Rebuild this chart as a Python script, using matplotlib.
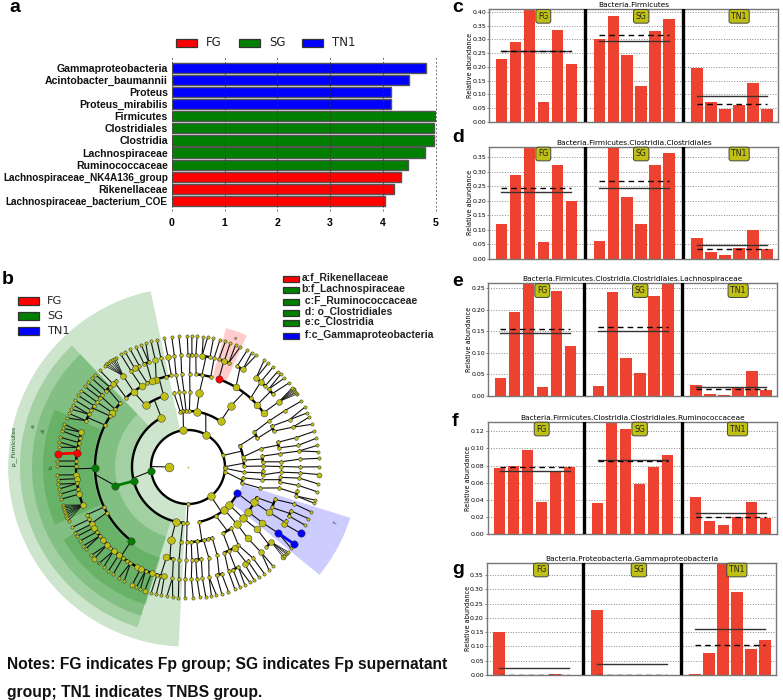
import matplotlib
matplotlib.use('Agg')
import matplotlib.pyplot as plt
import numpy as np
from matplotlib.patches import Rectangle

W, H = 783, 700
BOLD = 'Liberation Sans'
RED, GREEN, BLUE, YELLOW = '#ff0000', '#007f00', '#0000ff', '#bfbf14'
BAR = '#ee4230'

# panel a
lda_names = ['Gammaproteobacteria', 'Acintobacter_baumannii', 'Proteus', 'Proteus_mirabilis',
             'Firmicutes', 'Clostridiales', 'Clostridia', 'Lachnospiraceae', 'Ruminococcaceae',
             'Lachnospiraceae_NK4A136_group', 'Rikenellaceae', 'Lachnospiraceae_bacterium_COE']
lda_values = [4.82, 4.50, 4.15, 4.15, 5.00, 4.98, 4.98, 4.80, 4.48, 4.34, 4.22, 4.05]
lda_colors = [BLUE] * 4 + [GREEN] * 5 + [RED] * 3
group_names = ['FG', 'SG', 'TN1']
group_colors = [RED, GREEN, BLUE]

# panels c-g: per-sample abundance, mean (dashed) and median (solid)
titles = ['Bacteria.Firmicutes',
          'Bacteria.Firmicutes.Clostridia.Clostridiales',
          'Bacteria.Firmicutes.Clostridia.Clostridiales.Lachnospiraceae',
          'Bacteria.Firmicutes.Clostridia.Clostridiales.Ruminococcaceae',
          'Bacteria.Proteobacteria.Gammaproteobacteria']
letters = ['c', 'd', 'e', 'f', 'g']
abund_c = [.228, .292, .45, .072, .333, .212, .300, .387, .243, .130, .330, .373, .197, .073, .046, .060, .141, .045]
abund_d = [.122, .290, .42, .060, .324, .201, .062, .381, .215, .122, .324, .365, .072, .023, .015, .039, .100, .036]
abund_e = [.041, .194, .30, .020, .244, .115, .022, .241, .087, .054, .233, .30, .025, .005, .002, .018, .058, .013]
abund_f = [.077, .080, .098, .037, .073, .078, .036, .15, .122, .058, .078, .092, .043, .016, .011, .020, .038, .019]
abund_g = [.152, 0, 0, 0, .004, 0, .226, 0, 0, 0, .001, 0, .004, .077, .45, .290, .090, .121]
abundances = [abund_c, abund_d, abund_e, abund_f, abund_g]
solid_lines = [[.258, .295, .093], [.230, .245, .047], [.145, .150, .020], [.074, .086, .0245], [.0245, .037, .161]]
dash_lines = [[.259, .315, .066], [.246, .270, .036], [.155, .159, .015], [.078, .085, .020], [.001, .001, .104]]
y_tops = [.411, .387, .262, .131, .393]
y_ticks = [np.arange(0, .41, .05), np.arange(0, .36, .05), np.arange(0, .26, .05),
           np.arange(0, .13, .02), np.arange(0, .36, .05)]

# panel b: cladogram, angles in degrees, one list of child groups per node of the level before
radii = [18.7, 37, 56, 75, 93, 112]
leaf_radius = 131
level1 = [[0.5, 18.3, 61.1, 97, 186.3, 270, 308, 353, 358]]
level2 = [[0.7, 7], [10.4, 22.5], [54.5, 81.1, 88.6], [92, 95, 96.5, 98],
          [118.4, 194.5, 257.4, 264.6], [269], [281.4, 299.7, 310.5, 317.6, 332],
          [343.5, 348.8], [354.7]]
level3 = [[0.7], [4, 8.3], [14.2], [22.4, 27.8], [54.9], [81.3], [88.5], [93], [96.6], [], [100.7],
          [108.8, 124.5], [194.5], [257], [264.4], [269], [272.5, 276.8, 282, 285.8, 288.9],
          [297.9, 305.4], [310.6], [317.1], [323.3, 332, 336], [343.7], [350.3], [354, 357]]
level4 = [[0.3], [3.2], [8.3], [11.9, 15.4], [22.7, 26], [29.6], [35.7, 41.9, 47.7, 59, 70.7],
          [75.8, 81.4, 85], [89], [93.9], [97.4], [], [100.3, 103.7, 110, 113, 115.9],
          [120, 125.8, 131.8], [136.9, 141.6, 144.3, 146.8, 153.2, 180.8, 205.5, 209.3, 232.4],
          [256.6, 261], [264.5], [268.8], [272.4], [274.8, 278.2], [282.9], [], [288.3],
          [293, 295.9, 300], [302.8], [310], [318], [323.2], [330.8], [334.2, 339.6], [347],
          [350.7, 353.6], [356.8], []]
level5 = [[0], [4], [8.2], [11.1], [15.2], [20.8], [25], [30.2], [35.7], [41, 44], [46.4, 49.5, 52.6],
          [60.7, 64], [68.6, 71.1, 74], [76.5], [78.7, 82.8], [86], [88, 90], [93.6], [97], [100.3], [104],
          [107], [110.5, 113.1], [115.7, 118.4], [120.7], [125.4], [129.7, 132.1], [134.4, 137.2],
          [139.9, 142], [144.5], [146.9, 149.6], [152, 155.6],
          [162, 164.8, 167.4, 170, 172.8, 176.9, 179.7, 184, 186, 188.4, 191.3, 194, 199.8],
          [205.3], [207.9, 210.6, 212.8],
          [215.4, 218, 220.4, 223.9, 226.2, 228.4, 231.8, 234.3, 236.8, 239.1, 242.7, 245, 247.7, 251],
          [253.9, 256, 257.8], [262], [265.3], [268.5], [271.7], [274.6], [277.4], [280.8], [284.8, 287.5],
          [291.2], [293.7, 296.7], [300.3, 302.5], [305.5], [310.6], [314.4, 318], [323.8], [329.4, 331.3],
          [334.1, 336.9], [340.8], [345, 347.5], [350.5], [354.3], [357]]
leaves = [0.1, 3.8, 6.7, 9.5, 12.6, 15.8, 19, 22.4, 24.4, 27.1, 30.2, 39.8, 42.7, 45, 46.8, 49.6, 52.3, 54.5,
          58.6, 60.9, 63.1, 66.5, 68.7, 71.2, 73.4, 75.9, 78.8, 81.4, 83.3, 86, 88.3, 90.3, 94, 97.1, 100.4,
          103.7, 106.4, 108.8, 111, 113.4, 116.2, 118.6, 120.8, 132.4, 135.1, 137.3, 139.8, 142, 144.4, 146.9,
          149.4, 151.6, 153.7, 155.8, 158, 160.9, 162.8, 164, 166.9, 169, 171.3, 174.3, 177.4, 179.7, 183.5,
          185.5, 187.5, 189.7, 192, 194.2, 207.5, 210, 212, 214.4, 217, 218.7, 222.4, 224.4, 227.3, 229.9,
          232.6, 235.1, 238, 240.8, 244.7, 246.8, 248.7, 250.7, 253.7, 256, 258.2, 260.7, 263.3, 265.8, 268.7,
          272.3, 275.2, 277.8, 280.3, 282.5, 284.9, 288, 291, 293.3, 295.7, 298.2, 300.3, 302.7, 305.6, 308.2,
          310.6, 321.8, 324, 329.5, 333.6, 336.8, 340, 344, 345.4, 349.2, 352.6, 356.7]
fan_parents = [35.7, 125.4, 199.8, 318]
fan_leaves = [[33.8, 34.5, 35, 35.7, 36.3, 36.8, 37.3],
              [123.6, 124.5, 125.3, 126.3, 127.5, 128.5, 129.4],
              [196.9, 197.6, 198.4, 199.3, 200.2, 201, 201.8, 202.9, 204.2],
              [316.5, 317.4, 318.4, 319, 319.7]]
big_nodes = [[], [61.1, 97, 308], [54.5, 81.1, 118.4, 257.4, 310.5, 317.6],
             [54.9, 81.3, 108.8, 124.5, 257, 310.6, 317.1, 323.3, 332],
             [35.7, 41.9, 59, 110, 113, 120, 125.8, 144.3, 256.6, 300, 310, 318, 323.2, 330.8],
             [35.7, 49.5, 52.6, 60.7, 71.1, 82.8, 100.3, 107, 118.4, 125.4, 132.1, 162, 184, 186, 194, 199.8,
              210.6, 212.8, 220.4, 223.9, 228.4, 231.8, 242.7, 245, 251, 257.8, 300.3, 310.6, 318, 329.4],
             [224.4, 244.7, 250.7, 316.5, 356.7]]
red_nodes = [(4, 70.7), (5, 172.8), (6, 174.3)]
green_nodes = [(1, 186.3), (2, 194.5), (3, 194.5), (4, 180.8), (4, 232.4)]
blue_nodes = [(2, 332), (5, 323.8), (6, 324), (6, 329.5)]
# wedge: first angle, last angle, inner radius, outer radius, colour
shades = [(102, 267, 37, 180, GREEN), (133.7, 252.5, 55, 168, GREEN), (133.7, 252.5, 73, 156, GREEN),
          (156.7, 203.4, 95, 145, GREEN), (210.3, 253, 95, 144, GREEN),
          (65.9, 74.7, 93, 144, RED), (320.6, 342.6, 57, 170, BLUE)]
clade_labels = ['a', 'f', 'p__Firmicutes', 'e', 'd', 'b', 'c']
clade_label_pos = [(70, 137), (339.5, 158), (173, 176), (165, 160), (166, 149), (180, 137), (227, 131)]
clade_label_rot = [-20, 70, 90, 85, 85, 90, 40]
key_labels = ['a:f_Rikenellaceae', 'b:f_Lachnospiraceae', ' c:F_Ruminococcaceae', ' d: o_Clostridiales',
              ' e:c_Clostridia', ' f:c_Gammaproteobacteria']
key_colors = [RED, GREEN, GREEN, GREEN, GREEN, BLUE]
key_y = [279, 290, 302, 313, 323, 336]


def axes_px(left, top, right, bottom, **kw):
    return fig.add_axes([left / W, 1 - bottom / H, (right - left) / W, (bottom - top) / H], **kw)


def fig_text(x, y, s, **kw):
    fig.text(x / W, 1 - y / H, s, va='center', **kw)


def fig_box(x0, y0, x1, y1, color, edge='#333333'):
    fig.add_artist(Rectangle((x0 / W, 1 - y1 / H), (x1 - x0) / W, (y1 - y0) / H, transform=fig.transFigure,
                             facecolor=color, edgecolor=edge, linewidth=0.9))


fig = plt.figure(figsize=(W / 100, H / 100), dpi=100)

# a: LDA bars
ax = axes_px(172, 56, 435.5, 211)
ax.barh(range(len(lda_values)), lda_values, height=0.84, color=lda_colors, edgecolor='#555555', linewidth=1, zorder=2)
ax.set_xlim(0, 5)
ax.set_ylim(11.82, -0.965)
ax.set_yticks(range(len(lda_names)))
ax.set_yticklabels(lda_names, fontfamily=BOLD, fontweight='bold', fontsize=7.6, color='#111111')
for lab in ax.get_yticklabels():
    if len(lab.get_text()) > 25:
        lab.set_fontsize(7.2)
ax.set_xticks(range(6))
ax.set_xticklabels(range(6), fontfamily=BOLD, fontweight='bold', fontsize=7.6)
ax.tick_params(length=0, pad=3)
ax.tick_params(axis='x', pad=5)
for s in ax.spines.values():
    s.set_visible(False)
for v in range(6):
    ax.axvline(v, color='#333333', linewidth=0.7, linestyle=(0, (2, 2)), zorder=3, alpha=0.7, clip_on=False)
for x0, name, col in zip([176, 239, 302], group_names, group_colors):
    fig_box(x0, 39, x0 + 21, 47, col)
    fig_text(x0 + 30, 43, name, fontsize=8.5, color='#222222')
fig_text(9, 8, 'a', fontfamily=BOLD, fontweight='bold', fontsize=14)

# b: cladogram
ax = axes_px(8, 287, 368, 647, projection='polar')
ax.set_rlim(0, 180)
ax.axis('off')
for t0, t1, r0, r1, col in shades:
    ax.bar(np.deg2rad((t0 + t1) / 2), r1 - r0, width=np.deg2rad(t1 - t0), bottom=r0, color=col, alpha=0.2,
           linewidth=0, zorder=1)

coloured = {}
for nodes, col in zip([red_nodes, green_nodes, blue_nodes], [RED, GREEN, BLUE]):
    for n in nodes:
        coloured[n] = col


def edge(t0, r0, t1, r1, **kw):
    ax.plot(np.deg2rad([t0, t1]), [r0, r1], zorder=2, solid_capstyle='round', **kw)


def draw_children(parent, depth, children):
    # siblings sit on a thick arc, the parent joins the arc with a thin line
    if len(children) == 0:
        return
    r0, r1 = radii[depth - 1], radii[depth]
    if len(children) == 1:
        c0 = coloured.get((depth - 1, parent))
        c1 = coloured.get((depth, children[0]))
        if c0 and c1:
            edge(parent, r0, children[0], r1, color=c1, linewidth=2)
        else:
            edge(parent, r0, children[0], r1, color='#111111', linewidth=0.8)
        return
    arc = np.linspace(min(children), max(children), 80)
    ax.plot(np.deg2rad(arc), np.full(80, r1), color='black', linewidth=1.7, zorder=2)
    edge(parent, r0, (min(children) + max(children)) / 2, r1, color='#111111', linewidth=0.8)


tree = [level1, level2, level3, level4, level5]
parents = [180]
all_levels = [parents]
for depth, groups in enumerate(tree, start=1):
    for p, kids in zip(parents, groups):
        draw_children(p, depth, kids)
    parents = [t for g in groups for t in g]
    all_levels.append(parents)

last = np.array(all_levels[5])
for t in leaves:
    p = last[np.argmin(np.abs((t - last + 180) % 360 - 180))]
    if (5, p) in coloured and (6, t) in coloured:
        edge(p, radii[5], t, leaf_radius, color=coloured[(6, t)], linewidth=2)
    else:
        edge(p, radii[5], t, leaf_radius, color='#111111', linewidth=0.8)
for p, fan in zip(fan_parents, fan_leaves):
    for t in fan:
        edge(p, radii[5], t, leaf_radius, color='#111111', linewidth=0.5)

all_levels.append(leaves + [t for fan in fan_leaves for t in fan])
small_size = [10, 7, 7, 7, 7, 7, 5.5]
big_size = [40, 30, 30, 30, 24, 17, 13]
node_radii = radii + [leaf_radius]
for depth, thetas in enumerate(all_levels):
    for t in thetas:
        col = coloured.get((depth, t), YELLOW)
        if col != YELLOW:
            size = 28
        elif depth == 0 or t in big_nodes[depth]:
            size = big_size[depth]
        else:
            size = small_size[depth]
        ax.scatter(np.deg2rad(t), node_radii[depth], s=size, color=col, edgecolor='#333333', linewidth=0.35, zorder=3)
ax.scatter(0, 0, s=1.5, color=YELLOW, linewidth=0, zorder=3)

for s, (t, r), rot in zip(clade_labels, clade_label_pos, clade_label_rot):
    ax.text(np.deg2rad(t), r, s, fontsize=4.2, rotation=rot, color='#1d4d1d', ha='center', va='center', zorder=4)

for y, name, col in zip([301, 316, 331], group_names, group_colors):
    fig_box(17.5, y - 3.7, 39, y + 3.7, col)
    fig_text(47, y, name, fontsize=8.2, color='#222222')
for y, name, col in zip(key_y, key_labels, key_colors):
    fig_box(283, y - 2.6, 298.5, y + 2.6, col)
    fig_text(301.5, y - 1, name, fontfamily=BOLD, fontweight='bold', fontsize=7.5, color='#222222')
fig_text(2, 280, 'b', fontfamily=BOLD, fontweight='bold', fontsize=14)

# c-g: relative abundance bars
positions = list(range(0, 6)) + list(range(7, 13)) + list(range(14, 20))
box_x = [3, 10, 17]
group_start = [0, 7, 14]
panel_px = [(489.3, 9, 121.7), (489.3, 146.7, 259), (488.3, 283.3, 395.7), (487.7, 421.7, 534.3), (487, 562.7, 675)]
letter_xy = [(452, 8), (452, 137), (452, 281), (452, 421), (452, 570)]
for i in range(5):
    left, top, bottom = panel_px[i]
    ax = axes_px(left, top, left + 289, bottom)
    ax.bar(positions, abundances[i], width=0.82, color=BAR, linewidth=0, zorder=2)
    ax.set_xlim(-0.86, 19.8)
    ax.set_ylim(0, y_tops[i])
    ax.set_yticks(y_ticks[i])
    ax.set_yticklabels(['%.2f' % v for v in y_ticks[i]], fontsize=4.5)
    ax.set_xticks([])
    ax.tick_params(axis='y', length=1.5, width=0.5, pad=0.8, color='#555555')
    ax.grid(axis='y', color='#888888', linestyle=':', linewidth=0.7, zorder=0)
    ax.set_axisbelow(True)
    for s in ax.spines.values():
        s.set_color('#777777')
        s.set_linewidth(1)
    ax.set_ylabel('Relative abundance', fontsize=4.7, labelpad=-0.5)
    ax.set_title(titles[i], fontsize=5.3, pad=1.5)
    for sep in [6, 13]:
        ax.axvline(sep, color='black', linewidth=2.4, zorder=4)
    for g in range(3):
        x0 = group_start[g]
        ax.plot([x0, x0 + 5], [solid_lines[i][g]] * 2, color='#333333', linewidth=1, zorder=5)
        ax.plot([x0, x0 + 5], [dash_lines[i][g]] * 2, color='black', linewidth=1, linestyle=(0, (4, 3)), zorder=5)
        ax.text(box_x[g], 0.935, group_names[g], transform=ax.get_xaxis_transform(), fontsize=5.6, ha='center',
                va='center', color='#222222', zorder=6,
                bbox=dict(boxstyle='round,pad=0.3', facecolor=YELLOW, edgecolor='#444444', linewidth=0.7))
    fig_text(letter_xy[i][0], letter_xy[i][1], letters[i], fontfamily=BOLD, fontweight='bold', fontsize=14)

fig_text(7, 665, 'Notes: FG indicates Fp group; SG indicates Fp supernatant', fontfamily=BOLD, fontweight='bold',
         fontsize=11.27, color='#111111')
fig_text(7, 692, 'group; TN1 indicates TNBS group.', fontfamily=BOLD, fontweight='bold', fontsize=11.27, color='#111111')

fig.savefig('out.png', dpi=100)
